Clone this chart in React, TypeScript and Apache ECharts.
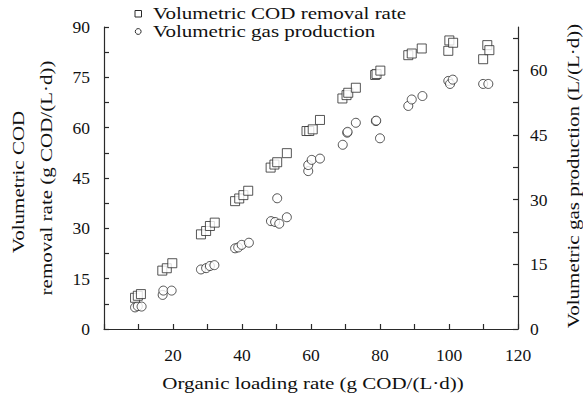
import { useEffect, useRef } from "react";
import * as echarts from "echarts";

// Volumetric COD removal rate (g COD/(L·d)) vs organic loading rate
const codX = [9.0, 9.8, 10.7, 16.9, 18.2, 19.8, 28.1, 29.6, 30.7, 32.1, 38.0, 39.2, 40.4, 41.8, 48.3, 49.4, 50.2, 53.0, 58.7, 59.5, 60.5, 62.6, 69.1, 70.3, 70.8, 73.0, 78.6, 79.0, 80.1, 88.2, 89.2, 92.1, 99.8, 100.1, 101.2, 109.9, 111.1, 111.7];
const codY = [9.3, 9.9, 10.4, 17.4, 18.1, 19.6, 28.2, 29.2, 30.7, 31.7, 38.1, 38.9, 39.9, 41.2, 48.1, 49.0, 49.7, 52.4, 59.0, 59.0, 59.5, 62.3, 68.7, 69.7, 70.4, 71.9, 75.7, 76.0, 77.0, 81.6, 82.1, 83.6, 82.9, 86.0, 85.3, 80.4, 84.6, 83.1];

// Volumetric gas production (L/(L·d)) vs organic loading rate
const gasX = [9.0, 9.8, 10.9, 17.0, 17.2, 19.6, 28.1, 29.6, 30.7, 32.0, 38.0, 38.9, 39.9, 42.0, 48.4, 49.6, 50.2, 50.8, 53.0, 59.2, 59.2, 60.2, 62.6, 69.2, 70.5, 70.6, 73.0, 78.8, 78.9, 80.0, 88.2, 89.2, 92.3, 99.8, 100.3, 101.1, 109.9, 111.4];
const gasY = [5.0, 5.3, 5.2, 7.9, 8.9, 8.9, 13.8, 14.1, 14.6, 14.8, 18.7, 18.9, 19.5, 20.0, 25.0, 24.8, 30.3, 24.4, 25.9, 36.6, 38.0, 39.2, 39.5, 42.7, 45.5, 45.7, 47.8, 48.2, 48.3, 44.2, 51.7, 53.2, 54.0, 57.5, 56.8, 57.8, 56.8, 56.8];

const xLabelValues = [20, 40, 60, 80, 100, 120];
const gasTickValues = [0, 7.5, 15, 22.5, 30, 37.5, 45, 52.5, 60, 67.5];
const gasLabelValues = [0, 15, 30, 45, 60];

const codName = "Volumetric COD removal rate";
const gasName = "Volumetric gas production";
const xTitle = "Organic loading rate (g COD/(L·d))";
const leftTitle1 = "Volumetric COD";
const leftTitle2 = "removal rate (g COD/(L·d))";
const rightTitle = "Volumetric gas production (L/(L·d))";

const FONT = "'Liberation Serif', 'Times New Roman', serif";
const AX = "#2a2a2a";

export default function App() {
  const ref = useRef<HTMLDivElement>(null);
  useEffect(() => {
    document.body.style.margin = "0";
    const chart = echarts.init(ref.current!, null, { renderer: "svg" });
    const codData = codX.map((x, i) => [x, codY[i]]);
    const gasData = gasX.map((x, i) => [x, gasY[i]]);
    const axisCommon = {
      axisLine: { show: true, lineStyle: { color: AX, width: 1.2 } },
      axisTick: { show: true, inside: true, length: 5, lineStyle: { color: AX, width: 1.2 } },
      splitLine: { show: false },
      axisLabel: { color: "#111", fontFamily: FONT, fontSize: 17.5 },
    };
    const titleText = (text: string, x: number, y: number, rotation: number) => ({
      type: "text",
      x,
      y,
      rotation,
      scaleX: 1.2,
      silent: true,
      style: {
        text,
        fill: "#111",
        font: `17.5px ${FONT}`,
        align: "center",
        verticalAlign: "middle",
        textAlign: "center",
        textVerticalAlign: "middle",
      },
    });
    const legendText = (text: string, x: number, y: number) => ({
      type: "text",
      x,
      y,
      scaleX: 1.2,
      silent: true,
      style: {
        text,
        fill: "#111",
        font: `17.5px ${FONT}`,
        align: "left",
        verticalAlign: "middle",
        textAlign: "left",
        textVerticalAlign: "middle",
      },
    });
    chart.setOption({
      animation: false,
      backgroundColor: "#fff",
      grid: { left: 104, right: 65, top: 27, bottom: 71, containLabel: false, outerBoundsMode: "none" },
      xAxis: {
        type: "value",
        min: 0,
        max: 120,
        interval: 10,
        ...axisCommon,
        axisLabel: { ...axisCommon.axisLabel, margin: 17, customValues: xLabelValues },
      },
      yAxis: [
        {
          type: "value",
          min: 0,
          max: 90,
          interval: 15,
          ...axisCommon,
          minorTick: { show: true, splitNumber: 2, length: 5, lineStyle: { color: AX, width: 1.2 } },
          minorSplitLine: { show: false },
          axisLabel: { ...axisCommon.axisLabel, margin: 14 },
        },
        {
          type: "value",
          position: "right",
          min: 0,
          max: 70,
          ...axisCommon,
          axisTick: { ...axisCommon.axisTick, customValues: gasTickValues },
          axisLabel: { ...axisCommon.axisLabel, margin: 12, customValues: gasLabelValues },
        },
      ],
      series: [
        {
          name: gasName,
          type: "scatter",
          yAxisIndex: 1,
          symbol: "circle",
          symbolSize: 9,
          itemStyle: { color: "#fff", borderColor: AX, borderWidth: 1 },
          data: gasData,
        },
        {
          name: codName,
          type: "scatter",
          yAxisIndex: 0,
          symbol: "rect",
          symbolSize: 9,
          itemStyle: { color: "#fff", borderColor: AX, borderWidth: 1 },
          data: codData,
        },
      ],
      graphic: [
        { type: "rect", silent: true, shape: { x: 135, y: 10.5, width: 6.5, height: 6.5 }, style: { fill: "#fff", stroke: AX, lineWidth: 1 } },
        { type: "circle", silent: true, shape: { cx: 138.2, cy: 31.5, r: 2.9 }, style: { fill: "#fff", stroke: AX, lineWidth: 1 } },
        legendText(codName, 153, 13),
        legendText(gasName, 153, 31.5),
        titleText(xTitle, 313, 383.5, 0),
        titleText(leftTitle1, 18.5, 182, Math.PI / 2),
        titleText(leftTitle2, 46, 178, Math.PI / 2),
        titleText(rightTitle, 573, 176, Math.PI / 2),
      ],
    });
    return () => chart.dispose();
  }, []);
  return <div ref={ref} style={{ width: 583, height: 400 }} />;
}
